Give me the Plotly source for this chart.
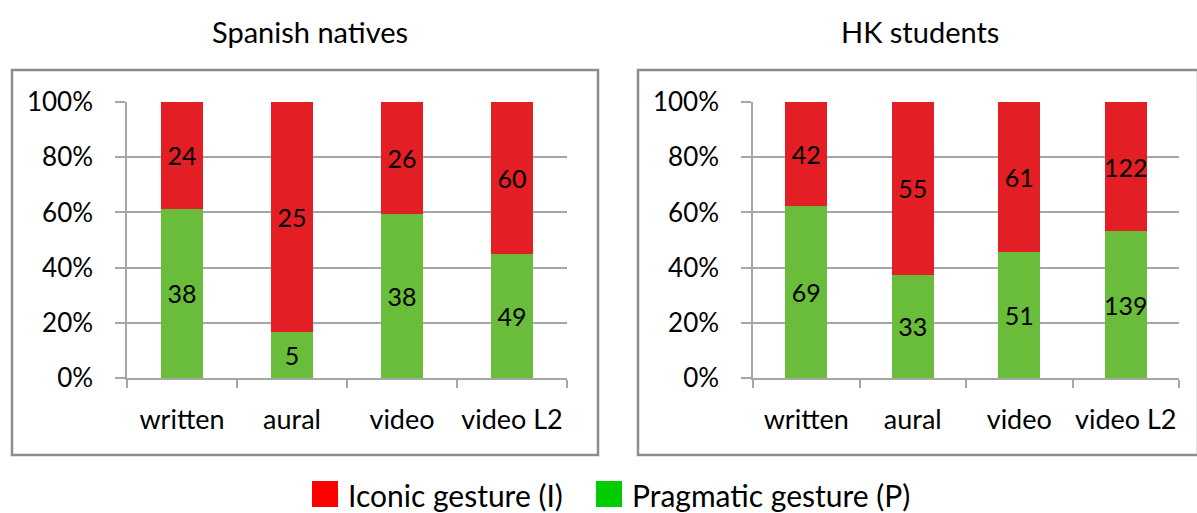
import plotly.graph_objects as go

categories = ["written", "aural", "video", "video L2"]

# gesture counts per condition
spanish_iconic = [24, 25, 26, 60]
spanish_pragmatic = [38, 5, 38, 49]
hk_iconic = [42, 55, 61, 122]
hk_pragmatic = [69, 33, 51, 139]

panel_titles = ["Spanish natives", "HK students"]
legend_labels = ["Iconic gesture (I)", "Pragmatic gesture (P)"]

RED = "#E31E24"
GREEN = "#69BD3A"
LEG_RED = "#FF0000"
LEG_GREEN = "#00CC00"
GRID = "#A6A6A6"
FONT = "Lato, 'Open Sans', sans-serif"

W, H = 1197, 513


def px_x(x):
    return x / W


def px_y(y):
    return (H - y) / H


fig = go.Figure()

panels = [
    ("x", "y", spanish_pragmatic, spanish_iconic),
    ("x2", "y2", hk_pragmatic, hk_iconic),
]
for xa, ya, prag, icon in panels:
    for vals, col in ((prag, GREEN), (icon, RED)):
        fig.add_trace(go.Bar(
            x=categories, y=vals, text=vals, texttemplate="%{text}",
            xaxis=xa, yaxis=ya, marker=dict(color=col, line=dict(width=0)),
            textposition="inside", insidetextanchor="middle", textangle=0,
            constraintext="none",
            textfont=dict(color="black", size=25, family=FONT),
            showlegend=False, hoverinfo="skip",
        ))

y_dom = [px_y(378), px_y(102)]
xaxis_common = dict(
    type="category", showgrid=False, showline=True, linecolor=GRID, linewidth=1.5,
    ticks="outside", tickson="boundaries", ticklen=8, tickcolor=GRID, tickwidth=1.5,
    tickfont=dict(size=27, family=FONT, color="black"), ticklabelstandoff=17,
    tickangle=0, automargin=False, fixedrange=True,
)
yaxis_common = dict(
    range=[0, 100], dtick=20, ticksuffix="%", showgrid=True, gridcolor=GRID,
    gridwidth=1.5, showline=True, linecolor=GRID, linewidth=1.5,
    ticks="outside", ticklen=10, tickcolor=GRID, tickwidth=1.5,
    tickfont=dict(size=26, family=FONT, color="black"), ticklabelstandoff=17,
    zeroline=False, automargin=False, fixedrange=True, domain=y_dom,
)

fig.update_layout(
    width=W, height=H, margin=dict(l=0, r=0, t=0, b=0, autoexpand=False),
    paper_bgcolor="white", plot_bgcolor="white",
    barmode="stack", barnorm="percent", bargap=0.61,
    font=dict(family=FONT, color="black"),
    xaxis=dict(domain=[px_x(127), px_x(567)], anchor="y", **xaxis_common),
    yaxis=dict(anchor="x", **yaxis_common),
    xaxis2=dict(domain=[px_x(753), px_x(1179)], anchor="y2", **xaxis_common),
    yaxis2=dict(anchor="x2", **yaxis_common),
)

# panel frames
fig.add_shape(type="rect", xref="paper", yref="paper",
              x0=px_x(12), x1=px_x(598), y0=px_y(455), y1=px_y(70),
              line=dict(color="#8C8C8C", width=2.5), layer="below")
fig.add_shape(type="rect", xref="paper", yref="paper",
              x0=px_x(638), x1=px_x(1198), y0=px_y(455), y1=px_y(70),
              line=dict(color="#8C8C8C", width=2.5), layer="below")

# panel titles
for title, cx in zip(panel_titles, [310, 920]):
    fig.add_annotation(text=title, xref="paper", yref="paper",
                       x=px_x(cx), y=px_y(31), showarrow=False,
                       xanchor="center", yanchor="middle",
                       font=dict(size=29, family=FONT, color="black"))

# legend
for label, color, sx in zip(legend_labels, [LEG_RED, LEG_GREEN], [312, 596]):
    fig.add_shape(type="rect", xref="paper", yref="paper",
                  x0=px_x(sx), x1=px_x(sx + 26), y0=px_y(507), y1=px_y(481),
                  fillcolor=color, line=dict(width=0))
    fig.add_annotation(text=label, xref="paper", yref="paper",
                       x=px_x(sx + 34), y=px_y(495), showarrow=False,
                       xanchor="left", yanchor="middle",
                       font=dict(size=30, family=FONT, color="black"))

fig.write_html("out.html")
